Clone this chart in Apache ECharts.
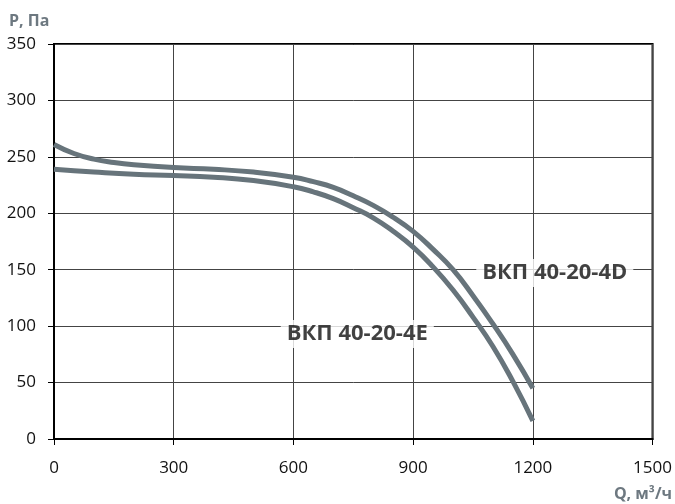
<!DOCTYPE html>
<html><head><meta charset="utf-8">
<script src="https://cdn.jsdelivr.net/npm/echarts@6/dist/echarts.min.js"></script>
<style>html,body{margin:0;padding:0;background:#fff}#c{width:675px;height:504px}</style>
</head><body><div id="c"></div>
<script>
const xTicks = [0, 300, 600, 900, 1200, 1500];
const yTicks = [0, 50, 100, 150, 200, 250, 300, 350];
const qD = [0, 50, 100, 150, 200, 300, 400, 500, 600, 650, 700, 750, 800, 850, 900, 950, 1000, 1050, 1100, 1150, 1200];
const pD = [261, 253, 248, 245, 243, 240.5, 239, 236.5, 232, 228, 223, 215.5, 207, 196.5, 184, 168, 150, 127, 102, 75, 45];
const qE = [0, 100, 200, 300, 400, 500, 600, 650, 700, 750, 800, 850, 900, 950, 1000, 1050, 1100, 1150, 1200];
const pE = [239, 236.5, 234.5, 233.5, 232, 229, 223.5, 219, 213, 205, 196, 184, 170, 152.5, 132, 108, 82, 51, 16];
const labelNames = ['ВКП 40-20-4D', 'ВКП 40-20-4E'];
const labelPos = [[1255, 147], [760, 93]];

const chart = echarts.init(document.getElementById('c'));
const font = '"Open Sans", "Noto Sans", sans-serif';
chart.setOption({
  animation: false,
  grid: {left: 54, right: 22, top: 44, bottom: 65, show: true, borderColor: '#000', borderWidth: 2},
  xAxis: {
    type: 'value', min: 0, max: 1500, interval: 300,
    axisLine: {show: true, lineStyle: {color: '#000', width: 2}},
    axisTick: {show: true, length: 6, lineStyle: {color: '#000'}},
    axisLabel: {color: '#111', fontSize: 17, fontFamily: font, margin: 21, formatter: v => String(v)},
    splitLine: {show: true, lineStyle: {color: '#444', width: 1}}
  },
  yAxis: {
    type: 'value', min: 0, max: 350, interval: 50,
    axisLine: {show: true, lineStyle: {color: '#000', width: 2}},
    axisTick: {show: true, length: 6, lineStyle: {color: '#000'}},
    axisLabel: {color: '#111', fontSize: 17, fontFamily: font, margin: 18, formatter: v => String(v)},
    splitLine: {show: true, lineStyle: {color: '#444', width: 1}}
  },
  series: [
    {type: 'line', smooth: true, showSymbol: false, data: qD.map((q, i) => [q, pD[i]]),
     lineStyle: {color: '#67747b', width: 5, cap: 'butt'}},
    {type: 'line', smooth: true, showSymbol: false, data: qE.map((q, i) => [q, pE[i]]),
     lineStyle: {color: '#67747b', width: 5, cap: 'butt'}},
    {type: 'scatter', symbolSize: 0, z: 10,
     data: labelPos.map((p, i) => ({value: p, name: labelNames[i]})),
     label: {show: true, position: 'inside', formatter: '{b}', color: '#111', fontSize: 22,
             fontWeight: 'bold', fontFamily: font, backgroundColor: '#fff', padding: [3, 6]}}
  ],
  graphic: [
    {type: 'text', left: 9, top: 13, style: {text: 'P, Па', fill: '#6d7880', font: 'bold 16px ' + font}},
    {type: 'text', right: 3, top: 486, style: {text: 'Q, м³/ч', fill: '#6d7880', font: 'bold 16px ' + font}}
  ]
});
</script></body></html>
